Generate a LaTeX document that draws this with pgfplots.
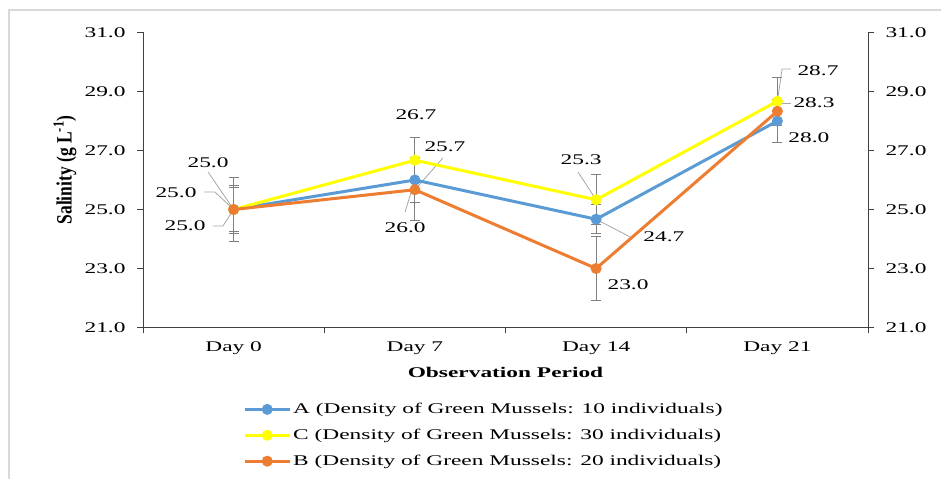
\documentclass[border=0pt]{standalone}
\usepackage{fontspec}
\setmainfont[FakeStretch=1.58]{Liberation Serif}
\newfontfamily\plainserif{Liberation Serif}
\usepackage{graphicx}
\usepackage{pgfplots}
\pgfplotsset{compat=1.18}
\definecolor{serA}{HTML}{5B9BD5}
\definecolor{serC}{HTML}{FFFF00}
\definecolor{serB}{HTML}{ED7D31}
\definecolor{errc}{HTML}{808080}
\definecolor{leadc}{HTML}{A6A6A6}
\newcommand\f{\fontsize{14.8bp}{17bp}\selectfont}
\pgfplotstableread{
x y e
0 25.00 0.82
1 26.00 0.75
2 24.67 0.50
3 28.00 0.72
}\dataA
\pgfplotstableread{
x y e
0 25.00 0.74
1 26.67 0.77
2 25.33 0.84
3 28.67 0.81
}\dataC
\pgfplotstableread{
x y e
0 25.00 1.08
1 25.67 1.03
2 23.00 1.07
3 28.33 0.30
}\dataB
\begin{document}
\begin{tikzpicture}[x=1bp,y=1bp]
\useasboundingbox (0,0) rectangle (941,479);
\draw[black!15, line width=1.5bp] (9,0) -- (9,469) -- (941,469);
\pgfplotsset{
  commonax/.style={
    at={(143bp,151.5bp)}, anchor=south west,
    scale only axis, width=725bp, height=295bp,
    xmin=-0.5, xmax=3.5, ymin=21, ymax=31,
    ytick={21,23,25,27,29,31},
    tick align=outside, major tick length=6bp,
    yticklabel style={/pgf/number format/fixed, /pgf/number format/fixed zerofill, /pgf/number format/precision=1, /pgf/number format/assume math mode=true},
    ticklabel style={font=\f},
    axis line style={black!75, line width=1bp},
    tick style={black!75, line width=1bp},
    clip=false,
  },
  ser/.style={#1, line width=3bp, mark=*, mark size=5bp,
    mark options={solid, fill=#1, draw=#1, line width=1bp},
    error bars/.cd, y dir=both, y explicit,
    error bar style={errc, line width=1bp},
    error mark options={rotate=90, mark size=5bp, errc, line width=1bp}},
}
\begin{axis}[commonax,
  axis x line*=bottom, axis y line*=left,
  yticklabel style={xshift=-8bp},
  xtick={-0.5,0.5,1.5,2.5,3.5}, xticklabels={},
  extra x ticks={0,1,2,3},
  extra x tick labels={Day 0,Day 7,Day 14,Day 21},
  extra x tick style={major tick length=0pt, xticklabel style={yshift=-11bp}},
  legend style={at={(0.138,-0.25)}, anchor=north west, draw=none, fill=none,
    font=\f, inner sep=0pt, row sep=10bp},
  legend cell align=left,
  legend image code/.code={\draw[mark repeat=2, mark phase=2, #1] plot coordinates {(0bp,0bp) (22.5bp,0bp) (45bp,0bp)};},
]
% leader lines
\draw[leadc, line width=0.8bp] (axis cs:-0.141,26.27) -- (axis cs:0,25);
\draw[leadc, line width=0.8bp] (axis cs:-0.163,25.59) -- (axis cs:-0.103,25.59) -- (axis cs:0,25);
\draw[leadc, line width=0.8bp] (axis cs:-0.114,24.44) -- (axis cs:-0.059,24.44) -- (axis cs:0,25);
\draw[leadc, line width=0.8bp] (axis cs:1.155,26.75) -- (axis cs:1.0,25.67);
\draw[leadc, line width=0.8bp] (axis cs:0.946,24.92) -- (axis cs:1.0,26.0);
\draw[leadc, line width=0.8bp] (axis cs:1.90,26.27) -- (axis cs:2.0,25.33);
\draw[leadc, line width=0.8bp] (axis cs:2.187,24.07) -- (axis cs:2.0,24.67);
\draw[leadc, line width=0.8bp] (axis cs:3.075,29.76) -- (axis cs:3.026,29.76) -- (axis cs:3.0,28.67);
\draw[leadc, line width=0.8bp] (axis cs:3.075,28.58) -- (axis cs:3.02,28.58);
\addplot[ser=serA] table[x=x, y=y, y error=e] {\dataA};
\addlegendentry{A (Density of Green Mussels: 10 individuals)}
\addplot[ser=serC] table[x=x, y=y, y error=e] {\dataC};
\addlegendentry{C (Density of Green Mussels: 30 individuals)}
\addplot[ser=serB] table[x=x, y=y, y error=e] {\dataB};
\addlegendentry{B (Density of Green Mussels: 20 individuals)}
% data labels
\node[font=\f] at (axis cs:-0.141,26.58) {25.0};
\node[font=\f] at (axis cs:-0.318,25.56) {25.0};
\node[font=\f] at (axis cs:-0.268,24.44) {25.0};
\node[font=\f] at (axis cs:1.006,28.20) {26.7};
\node[font=\f] at (axis cs:1.166,27.12) {25.7};
\node[font=\f] at (axis cs:0.946,24.37) {26.0};
\node[font=\f] at (axis cs:1.917,26.68) {25.3};
\node[font=\f] at (axis cs:2.374,24.07) {24.7};
\node[font=\f] at (axis cs:2.176,22.44) {23.0};
\node[font=\f] at (axis cs:3.224,29.70) {28.7};
\node[font=\f] at (axis cs:3.202,28.61) {28.3};
\node[font=\f] at (axis cs:3.174,27.42) {28.0};
\end{axis}
\begin{axis}[commonax, axis x line=none, axis y line*=right, yticklabel style={xshift=8bp}]
\addplot[draw=none] coordinates {(0,25)};
\end{axis}
\node[rotate=90, font=\fontsize{17.5bp}{20bp}\plainserif\bfseries] at (65,309) {\scalebox{1}[1.25]{Salinity (g L\textsuperscript{-1})}};
\node[font=\f\bfseries] at (505.5,107) {Observation Period};
\end{tikzpicture}
\end{document}
